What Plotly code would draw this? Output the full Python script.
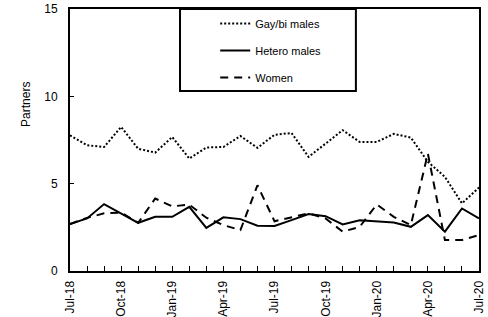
import plotly.graph_objects as go

months = ["Jul-18","Aug-18","Sep-18","Oct-18","Nov-18","Dec-18","Jan-19","Feb-19","Mar-19",
          "Apr-19","May-19","Jun-19","Jul-19","Aug-19","Sep-19","Oct-19","Nov-19","Dec-19",
          "Jan-20","Feb-20","Mar-20","Apr-20","May-20","Jun-20","Jul-20"]
gay_bi = [7.77, 7.2, 7.1, 8.25, 7.0, 6.78, 7.67, 6.44, 7.07, 7.1, 7.73, 7.05, 7.8,
          7.9, 6.53, 7.3, 8.06, 7.39, 7.39, 7.85, 7.64, 6.25, 5.39, 3.87, 4.78]
hetero = [2.69, 3.01, 3.83, 3.3, 2.76, 3.1, 3.1, 3.67, 2.47, 3.07, 2.97, 2.59, 2.58,
          2.91, 3.26, 3.14, 2.67, 2.91, 2.86, 2.78, 2.53, 3.2, 2.25, 3.58, 3.01]
women = [2.69, 3.04, 3.3, 3.35, 2.76, 4.15, 3.7, 3.8, 3.05, 2.63, 2.34, 4.91, 2.85,
         3.07, 3.3, 3.01, 2.25, 2.53, 3.81, 3.1, 2.63, 6.72, 1.77, 1.77, 2.06]
tick_labels = months[::3]

x = list(range(len(months)))
FONT = "Liberation Sans, Arial, sans-serif"

fig = go.Figure()
fig.add_trace(go.Scatter(x=x, y=gay_bi, mode="lines", name="Gay/bi males",
                         line=dict(color="black", width=2, dash="2px,2px"), legendgroup="a"))
fig.add_trace(go.Scatter(x=x, y=hetero, mode="lines", name="Hetero males",
                         line=dict(color="black", width=2), legendgroup="b"))
fig.add_trace(go.Scatter(x=x, y=women, mode="lines", name="Women",
                         line=dict(color="black", width=2, dash="8px,6px"), legendgroup="c"))

# legend frame
fig.add_shape(type="rect", xref="paper", yref="paper", x0=0.269, x1=0.699, y0=0.687, y1=1,
              line=dict(color="black", width=2), fillcolor="white", layer="above")

fig.update_layout(
    width=488, height=317,
    margin=dict(l=70, r=9, t=9, b=46, autoexpand=False),
    paper_bgcolor="white", plot_bgcolor="white",
    font=dict(family=FONT, size=12, color="black"),
    showlegend=True,
    legend=dict(x=0.355, y=1.0, xanchor="left", yanchor="top", bgcolor="rgba(0,0,0,0)",
                borderwidth=0, font=dict(size=11), tracegroupgap=8),
    xaxis=dict(range=[0, len(months) - 1], tickmode="array", tickvals=x[::3], ticktext=tick_labels,
               tickangle=-90, ticks="inside", ticklen=5, tickwidth=1, tickcolor="black",
               minor=dict(dtick=1, tick0=0, ticks="inside", ticklen=5, tickwidth=1, tickcolor="black"),
               showline=True, linewidth=2, linecolor="black", mirror=True,
               showgrid=False, zeroline=False, ticklabelstandoff=3, automargin=False),
    yaxis=dict(range=[0, 15], tickvals=[0, 5, 10, 15], ticks="inside", ticklen=4, tickwidth=1,
               tickcolor="black", showline=True, linewidth=2, linecolor="black", mirror=True,
               showgrid=False, zeroline=False, ticklabelstandoff=8, automargin=False),
    annotations=[dict(text="Partners", textangle=-90, xref="paper", yref="paper",
                      x=-0.13, y=0.637, showarrow=False, font=dict(size=12))],
)

fig.write_html("out.html", config={"displayModeBar": False},
               post_script="document.body.style.margin='0';")
